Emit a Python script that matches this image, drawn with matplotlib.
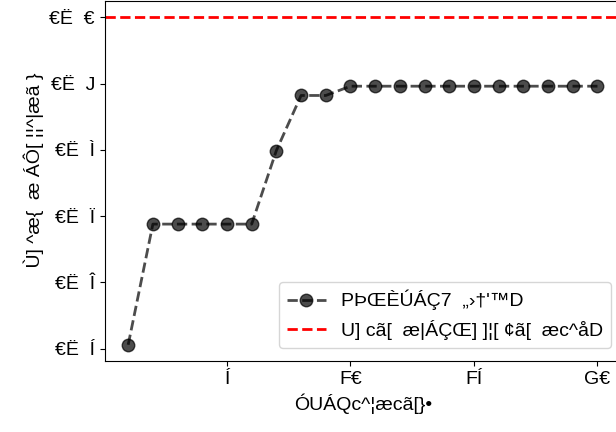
import matplotlib
matplotlib.use("Agg")
import matplotlib.pyplot as plt

plt.rcParams['font.family'] = ['Liberation Sans', 'DejaVu Sans']

iterations = list(range(1, 21))
model_score = [0.7506, 0.7688, 0.7688, 0.7688, 0.7688, 0.7688, 0.7799, 0.7882, 0.7882,
               0.7896, 0.7896, 0.7896, 0.7896, 0.7896, 0.7896, 0.7896, 0.7896, 0.7896,
               0.7896, 0.7896]
optimal_score = 0.80

y_ticks = [0.75, 0.76, 0.77, 0.78, 0.79, 0.80]
y_ticklabels = ["€Ë  Í", "€Ë  Î", "€Ë  Ï", "€Ë  Ì", "€Ë  J", "€Ë  €"]
x_ticks = [5, 10, 15, 20]
x_ticklabels = ["Í", "F€", "FÍ", "G€"]

label_model = "PÞŒÈÚÁÇ7  „›†'™D"
label_optimal = "U] cã[  æ|ÁÇŒ] ]¦[ ¢ã[  æc^åD"
x_label = "ÓUÁQc^¦æcã[}•"
y_label = "    Ù] ^æ{  æ ÁÔ[ ¦¦^|æã }"

fig = plt.figure(figsize=(6.16, 4.32), dpi=100)
ax = fig.add_axes([0.170, 0.164, 0.838, 0.834])

ax.plot(iterations, model_score, 'o--', color='black', alpha=0.7,
        markersize=9, linewidth=2, label=label_model)
ax.axhline(optimal_score, color='red', linestyle='--', linewidth=2, label=label_optimal)

ax.set_xticks(x_ticks)
ax.set_xticklabels(x_ticklabels, fontsize=14)
ax.set_yticks(y_ticks)
ax.set_yticklabels(y_ticklabels, fontsize=14)
ax.set_xlabel(x_label, fontsize=14)
ax.set_ylabel(y_label, fontsize=14)
ax.legend(loc='lower right', fontsize=14, bbox_to_anchor=(1.0, 0.01))

fig.savefig("out.png", dpi=100)
